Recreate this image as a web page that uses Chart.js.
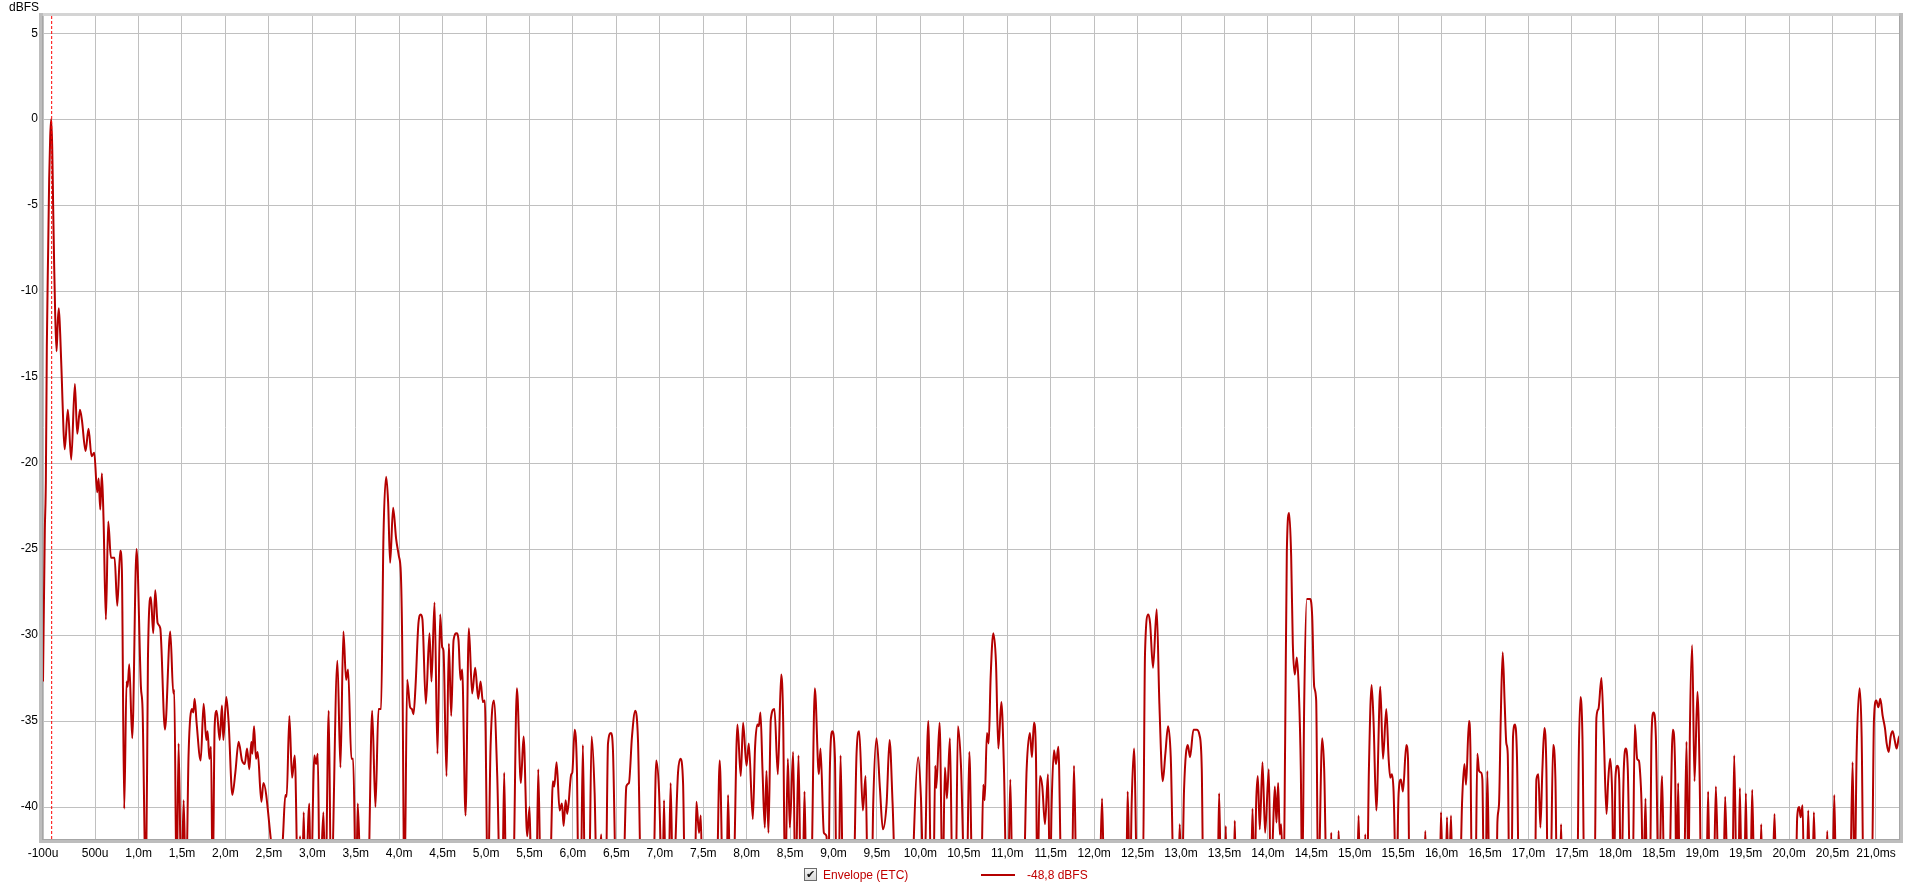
<!DOCTYPE html>
<html>
<head>
<meta charset="utf-8">
<script src="https://cdn.jsdelivr.net/npm/chart.js@4.4.1/dist/chart.umd.min.js"></script>
<style>
  body { margin: 0; background: #fff; font-family: "Liberation Sans", Arial, sans-serif; }
  #wrap { position: relative; width: 1920px; height: 890px; }
  #unit { position: absolute; left: 9px; top: 0px; font-size: 12px; color: #000; }
  .leg { position: absolute; top: 868px; font-size: 12px; line-height: 14px; }
  #box { position: absolute; left: 804px; top: 868px; width: 11px; height: 11px; border: 1px solid #6b6b6b;
         background: linear-gradient(#f4f4f4, #d8d8d8); font-family: "DejaVu Sans"; font-size: 11px; line-height: 11px;
         text-align: center; color: #111; }
  #swatch { position: absolute; left: 981px; top: 874px; width: 34px; height: 2px; background: #b40000; }
</style>
</head>
<body>
<div id="wrap">
  <canvas id="etc" width="1920" height="890"></canvas>
  <div id="unit">dBFS</div>
  <div id="box">&#10004;</div>
  <div class="leg" style="left:823px;color:#c00000">Envelope (ETC)</div>
  <div id="swatch"></div>
  <div class="leg" style="left:1027px;color:#c00000">-48,8 dBFS</div>
</div>
<script>
// ETC envelope, [time in ms, level in dBFS]; -45 means the trace dropped below the plot floor
var envelope = [
  [-0.100,-32.7],[-0.079,-23.9],[-0.067,-21.0],[-0.056,-13.2],[-0.040,-7.4],[-0.029,-3.5],[-0.017,-1.0],[-0.006,0.0],
  [0.006,-1.6],[0.017,-5.1],[0.029,-8.6],[0.040,-11.3],[0.056,-13.5],[0.071,-11.7],[0.082,-11.0],[0.098,-12.5],
  [0.117,-15.2],[0.136,-18.1],[0.150,-19.2],
  [0.186,-16.9],[0.225,-19.8],[0.267,-15.4],[0.294,-18.3],[0.325,-16.9],[0.348,-17.5],[0.390,-19.3],[0.424,-18.0],
  [0.459,-19.6],[0.490,-19.4],[0.524,-21.7],[0.540,-20.9],[0.559,-22.7],[0.578,-20.6],[0.597,-23.3],[0.624,-29.1],
  [0.651,-23.4],[0.682,-25.5],[0.724,-25.5],[0.755,-28.3],[0.789,-25.1],[0.808,-26.2],[0.835,-40.1],[0.862,-32.7],
  [0.874,-33.0],[0.893,-31.7],[0.927,-36.0],[0.977,-25.0],[1.027,-33.0],[1.046,-34.3],[1.085,-45],[1.108,-31.4],
  [1.142,-27.8],[1.169,-29.9],[1.192,-27.4],[1.219,-29.3],[1.250,-29.6],[1.304,-35.5],[1.365,-29.8],[1.400,-33.4],
  [1.411,-33.2],[1.438,-45],[1.461,-36.3],[1.492,-45],[1.519,-39.6],[1.546,-45],[1.576,-36.9],[1.615,-34.3],
  [1.630,-34.5],[1.646,-33.7],[1.668,-35.1],[1.715,-37.3],[1.749,-34.0],[1.780,-36.1],[1.795,-35.6],[1.815,-37.2],
  [1.834,-36.5],[1.853,-45],[1.876,-35.3],[1.899,-34.4],[1.934,-36.1],[1.960,-34.1],[1.976,-36.1],[2.010,-33.6],
  [2.037,-35.1],[2.080,-39.3],[2.114,-38.0],[2.152,-36.2],[2.191,-37.3],[2.222,-37.5],[2.249,-36.6],[2.275,-37.8],
  [2.298,-36.2],[2.310,-36.9],[2.329,-35.3],[2.352,-37.2],[2.371,-36.8],[2.414,-39.7],[2.437,-38.6],[2.525,-42.0],
  [2.582,-45],[2.659,-42.0],[2.690,-39.3],[2.705,-39.4],[2.736,-34.7],[2.767,-38.3],[2.798,-37.0],[2.836,-45],
  [2.859,-41.7],[2.882,-45],[2.901,-40.3],[2.920,-45],[2.966,-39.8],[2.982,-45],[3.024,-37.0],[3.043,-37.5],
  [3.063,-36.9],[3.086,-45],[3.128,-40.3],[3.151,-45],[3.189,-34.4],[3.216,-45],[3.289,-31.5],[3.324,-37.7],
  [3.358,-29.8],[3.389,-32.6],[3.412,-32.0],[3.450,-37.2],[3.470,-37.2],[3.504,-45],[3.523,-39.8],[3.562,-45],
  [3.639,-45],[3.689,-34.4],[3.727,-40.0],[3.762,-34.3],
  [3.792,-34.3],[3.819,-24.3],[3.850,-20.8],[3.873,-22.3],[3.896,-25.8],[3.930,-22.6],[3.965,-24.4],[3.996,-25.4],
  [4.019,-26.4],[4.034,-30.1],[4.061,-45],[4.092,-32.6],[4.126,-34.2],[4.146,-34.3],[4.165,-34.6],[4.188,-33.0],
  [4.222,-29.3],[4.249,-28.8],[4.268,-29.1],[4.307,-34.0],[4.349,-29.9],[4.372,-32.7],[4.407,-28.1],[4.441,-36.9],
  [4.472,-28.8],[4.495,-30.7],[4.510,-30.9],[4.545,-38.2],[4.572,-30.5],[4.599,-34.7],[4.626,-30.3],[4.660,-29.9],
  [4.683,-30.3],[4.706,-32.6],[4.725,-32.0],[4.764,-40.5],[4.802,-29.6],[4.840,-33.4],[4.875,-31.9],[4.910,-33.7],
  [4.937,-32.7],[4.964,-33.9],[4.986,-33.8],[5.021,-45],[5.052,-36.5],[5.090,-33.8],[5.129,-38.2],[5.163,-45],
  [5.186,-45],[5.209,-38.0],[5.232,-45],[5.309,-45],[5.355,-33.1],[5.401,-38.6],[5.432,-35.9],[5.474,-41.7],
  [5.501,-40.0],[5.524,-45],[5.578,-45],[5.601,-37.8],[5.632,-45],[5.731,-45],[5.770,-38.5],[5.785,-38.8],
  [5.812,-37.4],[5.847,-40.2],[5.874,-39.8],[5.893,-41.1],[5.916,-39.6],[5.935,-40.4],[5.981,-38.1],[5.993,-38.0],
  [6.020,-35.5],[6.046,-37.8],[6.066,-45],[6.089,-45],[6.115,-36.4],[6.139,-45],[6.185,-45],[6.215,-35.9],
  [6.250,-39.2],[6.277,-45],[6.326,-41.6],[6.346,-45],[6.377,-45],[6.404,-36.3],[6.438,-35.7],[6.461,-36.7],
  [6.500,-45],[6.576,-45],[6.615,-38.8],[6.645,-38.6],[6.680,-35.9],[6.718,-34.4],[6.749,-36.1],[6.788,-45],
  [6.922,-45],[6.960,-37.3],[6.991,-39.0],[7.030,-45],[7.049,-39.6],[7.068,-45],[7.099,-45],[7.125,-38.6],
  [7.152,-45],[7.210,-38.0],[7.237,-37.2],[7.268,-38.6],[7.291,-45],[7.402,-45],[7.421,-39.7],[7.452,-41.5],
  [7.472,-40.5],[7.491,-45],[7.652,-45],[7.690,-37.3],[7.729,-45],[7.767,-45],[7.786,-39.3],[7.813,-45],
  [7.844,-45],[7.894,-35.2],[7.932,-38.2],[7.959,-35.1],[7.998,-37.6],[8.025,-36.3],[8.071,-40.7],[8.097,-36.5],
  [8.124,-35.2],[8.140,-35.3],[8.159,-34.5],[8.182,-37.8],[8.209,-41.2],[8.228,-37.9],[8.251,-41.5],[8.278,-34.9],
  [8.320,-34.3],[8.359,-38.1],[8.397,-32.3],[8.420,-34.9],[8.443,-45],[8.474,-37.2],[8.497,-41.2],[8.535,-36.8],
  [8.562,-45],[8.597,-37.0],[8.624,-45],[8.643,-45],[8.666,-39.1],[8.689,-45],[8.739,-45],[8.785,-33.1],
  [8.831,-38.1],[8.850,-36.6],[8.889,-41.5],[8.919,-41.7],[8.939,-45],[8.958,-37.8],[8.985,-35.6],[9.016,-37.1],
  [9.035,-45],[9.058,-45],[9.081,-37.0],[9.111,-45],[9.227,-45],[9.265,-36.9],[9.296,-35.6],[9.338,-40.2],
  [9.369,-38.2],[9.396,-45],[9.438,-45],[9.457,-39.8],[9.495,-36.0],[9.534,-38.9],[9.568,-41.3],[9.611,-39.8],
  [9.645,-36.1],[9.680,-39.8],[9.718,-45],[9.910,-45],[9.925,-41.7],[9.975,-37.1],[10.006,-39.4],[10.041,-45],
  [10.091,-35.0],[10.125,-45],[10.148,-45],[10.171,-37.6],[10.183,-38.9],[10.221,-35.1],[10.256,-45],[10.282,-37.7],
  [10.306,-39.5],[10.340,-36.0],[10.371,-45],[10.405,-45],[10.432,-35.3],[10.467,-37.6],[10.513,-45],[10.532,-45],
  [10.563,-36.8],[10.601,-45],[10.697,-45],[10.724,-38.7],[10.740,-39.6],[10.766,-35.7],[10.786,-36.3],[10.809,-32.4],
  [10.839,-29.9],[10.870,-31.6],[10.897,-36.6],[10.932,-33.9],[10.962,-37.8],[10.993,-45],[11.008,-45],[11.035,-38.4],
  [11.062,-45],
  [11.184,-45],[11.223,-37.8],[11.261,-35.7],[11.284,-37.1],[11.307,-35.1],[11.330,-36.9],[11.346,-45],[11.376,-38.2],
  [11.403,-38.8],[11.434,-41.0],[11.469,-38.1],[11.492,-45],[11.511,-39.8],[11.538,-36.7],[11.561,-37.5],[11.588,-36.5],
  [11.626,-45],[11.741,-45],[11.768,-37.6],[11.799,-45],[12.060,-45],[12.091,-39.5],[12.118,-45],[12.367,-45],
  [12.386,-39.1],[12.413,-45],[12.432,-39.8],[12.459,-36.6],[12.498,-45],[12.559,-45],[12.586,-31.0],[12.624,-28.8],
  [12.644,-29.3],[12.678,-31.9],[12.720,-28.5],[12.751,-34.0],[12.790,-38.5],[12.820,-36.9],[12.851,-35.3],[12.882,-37.1],
  [12.920,-45],[12.966,-45],[12.985,-41.0],[13.009,-45],[13.035,-39.0],[13.078,-36.4],[13.104,-37.1],[13.143,-35.5],
  [13.181,-35.5],[13.212,-35.8],[13.239,-37.8],[13.258,-45],[13.419,-45],[13.439,-39.2],[13.462,-45],[13.504,-45],
  [13.515,-41.1],[13.527,-45],[13.604,-45],[13.619,-40.8],[13.634,-45],[13.803,-45],[13.823,-40.1],[13.846,-45],
  [13.865,-39.8],[13.884,-38.2],[13.907,-41.3],[13.938,-37.4],[13.968,-41.5],[14.011,-37.8],[14.034,-45],[14.057,-41.7],
  [14.080,-38.8],[14.099,-40.9],[14.118,-38.6],[14.137,-41.6],[14.153,-41.0],[14.180,-45],[14.199,-36.0],[14.218,-25.2],
  [14.245,-22.9],[14.268,-25.4],[14.287,-30.5],[14.310,-32.3],[14.333,-31.3],[14.356,-33.2],[14.379,-37.8],[14.395,-45],
  [14.418,-34.0],[14.448,-27.9],[14.487,-27.9],[14.510,-28.9],[14.533,-33.0],[14.556,-33.8],[14.579,-45],[14.625,-36.0],
  [14.648,-37.8],[14.679,-45],[14.717,-45],[14.729,-41.5],[14.744,-45],[14.802,-45],[14.813,-41.4],[14.845,-45],
  [15.025,-45],[15.044,-40.5],[15.063,-45],[15.102,-45],[15.121,-41.6],[15.140,-45],[15.163,-37.8],[15.194,-32.9],
  [15.217,-35.1],[15.248,-40.2],[15.294,-33.0],[15.325,-37.2],[15.363,-34.3],[15.390,-37.2],[15.409,-38.3],[15.428,-38.1],
  [15.447,-39.1],[15.478,-45],[15.505,-39.2],[15.532,-38.4],[15.555,-39.1],[15.593,-36.4],[15.613,-37.2],[15.632,-45],
  [15.793,-45],[15.812,-41.4],[15.832,-45],[15.977,-45],[15.993,-40.3],[16.016,-45],[16.043,-45],[16.062,-40.6],
  [16.081,-45],[16.108,-40.5],[16.127,-45],[16.208,-45],[16.235,-39.8],[16.262,-37.5],[16.281,-38.7],[16.315,-35.0],
  [16.331,-36.5],[16.350,-45],[16.388,-45],[16.411,-36.9],[16.431,-37.9],[16.454,-38.0],[16.469,-38.4],[16.488,-45],
  [16.507,-45],[16.526,-37.9],[16.553,-45],[16.630,-45],[16.642,-40.9],[16.661,-39.8],[16.680,-35.0],[16.703,-31.0],
  [16.726,-34.0],[16.745,-36.3],[16.761,-36.9],[16.780,-45],[16.803,-45],[16.822,-35.9],[16.845,-35.2],[16.868,-37.2],
  [16.891,-45],[17.072,-45],[17.091,-38.4],[17.114,-38.1],[17.137,-41.2],[17.160,-37.8],[17.183,-35.4],[17.206,-37.8],
  [17.222,-45],[17.252,-45],[17.283,-36.4],[17.310,-38.4],[17.329,-45],[17.360,-45],[17.375,-41.0],[17.391,-45],
  [17.560,-45],[17.579,-36.9],[17.598,-33.6],[17.621,-35.9],[17.644,-45],[17.759,-45],[17.782,-34.8],[17.805,-34.3],
  [17.840,-32.5],[17.867,-35.9],[17.898,-40.4],[17.917,-38.5],[17.940,-37.2],[17.963,-39.2],[17.982,-45],[18.001,-38.3],
  [18.024,-37.6],[18.044,-38.4],[18.066,-45],[18.097,-37.8],[18.120,-36.6],[18.143,-37.8],[18.174,-45],[18.197,-45],
  [18.224,-35.2],[18.251,-37.2],[18.270,-37.3],[18.282,-37.8],[18.301,-39.8],[18.320,-45],[18.347,-39.5],[18.366,-45],
  [18.397,-45],[18.416,-35.9],[18.439,-34.5],[18.466,-35.9],[18.500,-45],
  [18.538,-38.2],[18.565,-45],[18.615,-45],[18.661,-35.5],[18.688,-37.8],[18.703,-45],[18.723,-38.6],[18.742,-45],
  [18.788,-45],[18.819,-36.2],[18.842,-45],[18.857,-36.0],[18.884,-30.6],[18.911,-38.5],[18.945,-33.3],[18.972,-38.8],
  [18.987,-45],[19.045,-45],[19.068,-39.1],[19.087,-45],[19.130,-45],[19.157,-38.8],[19.191,-45],[19.241,-45],
  [19.264,-39.4],[19.295,-45],[19.345,-45],[19.368,-37.0],[19.398,-45],[19.414,-45],[19.433,-38.9],[19.456,-45],
  [19.483,-45],[19.502,-39.2],[19.521,-45],[19.552,-45],[19.575,-39.0],[19.602,-45],[19.663,-45],[19.679,-41.0],
  [19.694,-45],[19.805,-45],[19.832,-40.4],[19.855,-45],[20.074,-45],[20.093,-40.6],[20.117,-40.0],[20.132,-40.6],
  [20.155,-39.9],[20.174,-45],[20.201,-45],[20.220,-40.2],[20.243,-45],[20.266,-45],[20.285,-40.3],[20.309,-45],
  [20.420,-45],[20.439,-41.4],[20.458,-45],[20.497,-45],[20.520,-39.3],[20.543,-45],[20.700,-45],[20.731,-37.4],
  [20.754,-45],[20.777,-36.9],[20.812,-33.1],[20.835,-35.9],[20.858,-45],[20.950,-45],[20.977,-34.9],[21.004,-33.8],
  [21.027,-34.2],[21.050,-33.7],[21.077,-34.7],[21.103,-35.4],[21.123,-36.3],[21.146,-36.8],[21.169,-35.9],[21.192,-35.6],
  [21.215,-36.1],[21.238,-36.6],[21.261,-36.0],[21.280,-35.8]
];

var xTickValues = [-0.1,0.5,1.0,1.5,2.0,2.5,3.0,3.5,4.0,4.5,5.0,5.5,6.0,6.5,7.0,7.5,8.0,8.5,9.0,9.5,10.0,
  10.5,11.0,11.5,12.0,12.5,13.0,13.5,14.0,14.5,15.0,15.5,16.0,16.5,17.0,17.5,18.0,18.5,19.0,19.5,20.0,20.5,21.0];
var xTickLabels = ['-100u','500u','1,0m','1,5m','2,0m','2,5m','3,0m','3,5m','4,0m','4,5m','5,0m','5,5m','6,0m',
  '6,5m','7,0m','7,5m','8,0m','8,5m','9,0m','9,5m','10,0m','10,5m','11,0m','11,5m','12,0m','12,5m','13,0m','13,5m',
  '14,0m','14,5m','15,0m','15,5m','16,0m','16,5m','17,0m','17,5m','18,0m','18,5m','19,0m','19,5m','20,0m','20,5m','21,0ms'];
var yTickValues = [5,0,-5,-10,-15,-20,-25,-30,-35,-40];
var yTickLabels = ['5','0','-5','-10','-15','-20','-25','-30','-35','-40'];
var markerMs = 0;   // cursor at the direct sound
var xMin = -0.1, xMax = 21.265, yMin = -41.86, yMax = 6;

// sunken gray frame round the plot area
var framePlugin = {
  id: 'frame',
  afterDatasetsDraw: function(chart) {
    var c = chart.ctx, a = chart.chartArea;
    c.save();
    c.fillStyle = '#d4d4d4';
    c.fillRect(a.left - 4, a.top - 3, a.right - a.left + 8, 3);
    c.fillStyle = '#bdbdbd';
    c.fillRect(a.left - 4, a.top - 3, 4, a.bottom - a.top + 7);
    c.fillRect(a.right, a.top - 3, 4, a.bottom - a.top + 7);
    c.fillRect(a.left - 4, a.bottom, a.right - a.left + 8, 4);
    c.fillStyle = '#a6a6a6';
    c.fillRect(a.left - 1, a.top, 1, a.bottom - a.top + 1);
    c.fillRect(a.right, a.top, 1, a.bottom - a.top + 1);
    c.fillRect(a.left - 1, a.bottom, a.right - a.left + 2, 1);
    c.restore();
  }
};

var ctx = document.getElementById('etc').getContext('2d');
window.etcChart = new Chart(ctx, {
  type: 'scatter',
  data: {
    datasets: [
      {
        label: 'cursor',
        data: [{x: markerMs, y: yMin}, {x: markerMs, y: yMax}],
        showLine: true,
        borderColor: '#ff0000',
        borderWidth: 1,
        borderDash: [3, 2],
        pointRadius: 0
      },
      {
        label: 'Envelope (ETC)',
        data: envelope.map(function(p) { return {x: p[0], y: p[1]}; }),
        showLine: true,
        borderColor: '#b40000',
        borderWidth: 2,
        pointRadius: 0,
        cubicInterpolationMode: 'monotone'
      }
    ]
  },
  options: {
    responsive: false,
    animation: false,
    devicePixelRatio: 1,
    layout: { padding: { top: 16, right: 21, left: 0, bottom: 0 } },
    plugins: { legend: { display: false }, tooltip: { enabled: false } },
    scales: {
      x: {
        type: 'linear',
        min: xMin,
        max: xMax,
        afterBuildTicks: function(s) { s.ticks = xTickValues.map(function(v) { return {value: v}; }); },
        afterFit: function(s) { s.height = 51; },
        grid: { color: '#c0c0c0', drawTicks: false },
        border: { display: false },
        ticks: {
          padding: 7,
          maxRotation: 0,
          autoSkip: false,
          color: '#000',
          font: { family: '"Liberation Sans", Arial', size: 12 },
          callback: function(v, i) { return xTickLabels[i]; }
        }
      },
      y: {
        min: yMin,
        max: yMax,
        afterBuildTicks: function(s) { s.ticks = yTickValues.map(function(v) { return {value: v}; }); },
        afterFit: function(s) { s.width = 43; },
        grid: { color: '#c0c0c0', drawTicks: false },
        border: { display: false },
        ticks: {
          padding: 5,
          color: '#000',
          font: { family: '"Liberation Sans", Arial', size: 12 },
          callback: function(v, i) { return yTickLabels[i]; }
        }
      }
    }
  },
  plugins: [framePlugin]
});
</script>
</body>
</html>
